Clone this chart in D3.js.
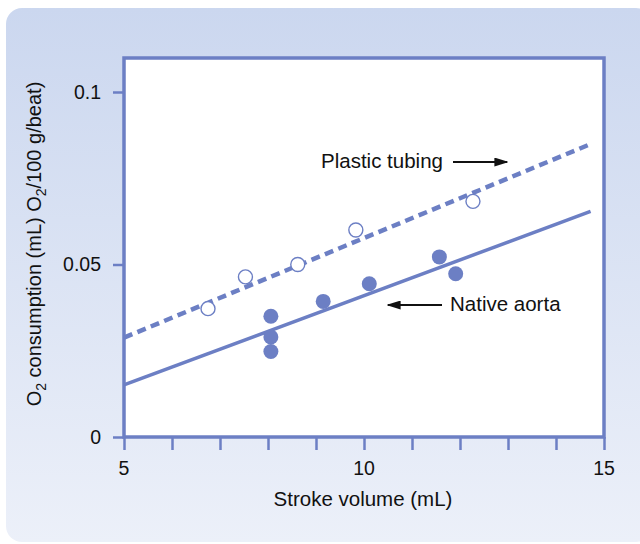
<!DOCTYPE html>
<html>
<head>
<meta charset="utf-8">
<script src="https://cdn.jsdelivr.net/npm/d3@7/dist/d3.min.js"></script>
<style>
  html, body { margin: 0; padding: 0; background: #ffffff; }
  svg { display: block; }
  text { font-family: "Liberation Sans", Arial, Helvetica, sans-serif; fill: #111; }
</style>
</head>
<body>
<svg id="chart" width="640" height="544"></svg>
<script>
// Stroke volume (mL) vs O2 consumption for the two aortic conditions
const plasticStroke = [6.75, 7.53, 8.62, 9.83, 12.27];
const plasticO2     = [0.0372, 0.0464, 0.0500, 0.0600, 0.0683];
const nativeStroke  = [8.06, 8.06, 8.06, 9.15, 10.11, 11.57, 11.91];
const nativeO2      = [0.0350, 0.0290, 0.0248, 0.0393, 0.0444, 0.0522, 0.0473];

// Regression lines: [stroke volume, O2] at each end
const plasticLine = [[5, 0.0288], [14.72, 0.0849]];
const nativeLine  = [[5, 0.0151], [14.72, 0.0654]];

const xTicks = [5, 6, 7, 8, 9, 10, 11, 12, 13, 14, 15];
const xTickLabels = ["5", "10", "15"];
const yTicks = [0, 0.05, 0.1];
const yTickLabels = ["0", "0.05", "0.1"];

const blue = "#6c7fc4";
const svg = d3.select("#chart");

// Background panel with vertical gradient
const defs = svg.append("defs");
const grad = defs.append("linearGradient").attr("id", "panelGrad")
  .attr("x1", 0).attr("y1", 0).attr("x2", 0).attr("y2", 1);
grad.append("stop").attr("offset", "0%").attr("stop-color", "#cbd7ef");
grad.append("stop").attr("offset", "100%").attr("stop-color", "#ecf0f9");
svg.append("rect").attr("x", 6).attr("y", 8).attr("width", 646).attr("height", 534)
  .attr("rx", 16).attr("fill", "url(#panelGrad)");

const x = d3.scaleLinear().domain([5, 15]).range([124, 604]);
const y = d3.scaleLinear().domain([0, 0.1]).range([437, 92]);
const yTop = 58;

// Plot area
svg.append("rect")
  .attr("x", x(5)).attr("y", yTop)
  .attr("width", x(15) - x(5)).attr("height", y(0) - yTop)
  .attr("fill", "#ffffff").attr("stroke", blue).attr("stroke-width", 3.5);

// X axis
const xAxis = svg.append("g").attr("transform", `translate(0,${y(0)})`)
  .call(d3.axisBottom(x).tickValues(xTicks).tickSize(13).tickFormat(""));
xAxis.select(".domain").remove();
xAxis.selectAll(".tick line").attr("stroke", blue).attr("stroke-width", 2.5);
svg.append("g").selectAll("text").data(xTickLabels).join("text")
  .attr("x", d => x(+d)).attr("y", 475)
  .attr("text-anchor", "middle").attr("font-size", 19.5).text(d => d);

// Y axis
const yAxis = svg.append("g").attr("transform", `translate(${x(5)},0)`)
  .call(d3.axisLeft(y).tickValues(yTicks).tickSize(11).tickFormat((d, i) => yTickLabels[i]));
yAxis.select(".domain").remove();
yAxis.selectAll(".tick line").attr("stroke", blue).attr("stroke-width", 2.5);
yAxis.selectAll(".tick text").attr("x", -23).attr("font-size", 19.5)
  .attr("fill", "#111").style("font-family", "'Liberation Sans', Arial, sans-serif");

// Axis titles
svg.append("text").attr("x", 363).attr("y", 506)
  .attr("text-anchor", "middle").attr("font-size", 20.5).text("Stroke volume (mL)");
const yt = svg.append("text")
  .attr("transform", "translate(41,244) rotate(-90)")
  .attr("text-anchor", "middle").attr("font-size", 20);
yt.append("tspan").text("O");
yt.append("tspan").attr("font-size", 14).attr("dy", 5).text("2");
yt.append("tspan").attr("dy", -5).text(" consumption (mL) O");
yt.append("tspan").attr("font-size", 14).attr("dy", 5).text("2");
yt.append("tspan").attr("dy", -5).text("/100 g/beat)");

// Regression lines
const line = d3.line().x(d => x(d[0])).y(d => y(d[1]));
svg.append("path").datum(plasticLine).attr("d", line)
  .attr("stroke", blue).attr("stroke-width", 4.5).attr("fill", "none")
  .attr("stroke-dasharray", "9,5.5");
svg.append("path").datum(nativeLine).attr("d", line)
  .attr("stroke", blue).attr("stroke-width", 3.5).attr("fill", "none");

// Data points
svg.append("g").selectAll("circle").data(plasticStroke).join("circle")
  .attr("cx", d => x(d)).attr("cy", (d, i) => y(plasticO2[i])).attr("r", 7)
  .attr("fill", "#ffffff").attr("stroke", blue).attr("stroke-width", 1.4);
svg.append("g").selectAll("circle").data(nativeStroke).join("circle")
  .attr("cx", d => x(d)).attr("cy", (d, i) => y(nativeO2[i])).attr("r", 7.5)
  .attr("fill", blue);

// Annotations with arrows
defs.append("marker").attr("id", "arrow").attr("viewBox", "0 0 10 10")
  .attr("refX", 9).attr("refY", 5).attr("markerWidth", 14).attr("markerHeight", 9)
  .attr("markerUnits", "userSpaceOnUse").attr("orient", "auto")
  .attr("preserveAspectRatio", "none")
  .append("path").attr("d", "M0,0 L10,5 L0,10 z").attr("fill", "#111");

svg.append("text").attr("x", 321).attr("y", 168).attr("font-size", 20.5).text("Plastic tubing");
svg.append("line").attr("x1", 453).attr("y1", 162).attr("x2", 507).attr("y2", 162)
  .attr("stroke", "#111").attr("stroke-width", 2).attr("marker-end", "url(#arrow)");

svg.append("text").attr("x", 450).attr("y", 311).attr("font-size", 20.5).text("Native aorta");
svg.append("line").attr("x1", 442).attr("y1", 305).attr("x2", 388).attr("y2", 305)
  .attr("stroke", "#111").attr("stroke-width", 2).attr("marker-end", "url(#arrow)");
</script>
</body>
</html>
